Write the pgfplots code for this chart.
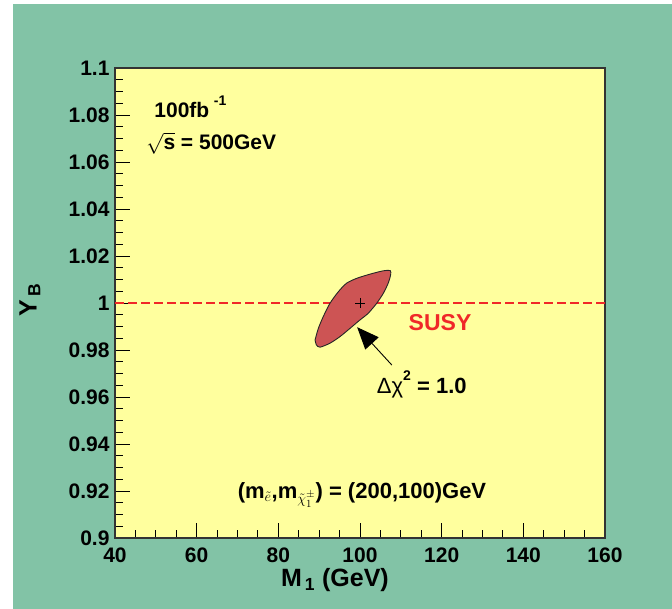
\documentclass[border=0pt]{standalone}
\usepackage{pgfplots}
\pgfplotsset{compat=1.18}
\usetikzlibrary{arrows.meta}
\usepackage{fontspec}
\setmainfont{Liberation Sans}
\definecolor{bggreen}{RGB}{130,195,166}
\definecolor{plotyellow}{RGB}{255,255,158}
\definecolor{ellred}{RGB}{205,84,84}
\definecolor{susyred}{RGB}{240,40,40}
\begin{document}
\begin{tikzpicture}
\fill[white] (0,0) rectangle (672bp,609bp);
\fill[bggreen] (13bp,0) rectangle (672bp,605bp);
\useasboundingbox (0,0) rectangle (672bp,609bp);
\begin{axis}[
  at={(115bp,71bp)}, anchor=south west,
  scale only axis, width=490bp, height=470bp,
  xmin=40, xmax=160, ymin=0.9, ymax=1.1,
  xtick={40,60,80,100,120,140,160},
  ytick={0.9,0.92,0.94,0.96,0.98,1,1.02,1.04,1.06,1.08,1.1},
  minor x tick num=3, minor y tick num=3,
  tick align=inside, xtick pos=bottom, ytick pos=left,
  major tick length=15bp, minor tick length=8bp,
  every tick/.style={black, line width=0.9bp},
  axis line style={line width=1.6bp, black!80},
  axis background/.style={fill=plotyellow},
  /pgf/number format/assume math mode=true,
  /pgf/number format/fixed, /pgf/number format/precision=2,
  ticklabel style={font=\fontsize{21bp}{24bp}\selectfont\bfseries},
  xticklabel style={yshift=-6bp},
  yticklabel style={xshift=-2bp},
  xlabel={M\textsubscript{\,1} (GeV)},
  ylabel={Y\textsubscript{\,B}},
  label style={font=\fontsize{25bp}{28bp}\selectfont\bfseries},
  xlabel style={at={(axis description cs:0.449,-0.0894)}, anchor=center},
  ylabel style={at={(axis description cs:-0.1735,0.506)}, anchor=center, rotate=0},
  clip=false,
]
\addplot[dashed, dash pattern=on 9bp off 4bp, color=susyred, line width=1.2bp, forget plot] coordinates {(40,1.0) (160,1.0)};
\addplot[fill=ellred, draw=black!85, line width=0.9bp, smooth, tension=0.45] coordinates {
(89.0,0.9843) (89.8,0.9892) (91.0,0.9942) (92.65,0.9999) (94.7,1.0048) (96.7,1.0084)
(99.2,1.0105) (102.5,1.0123) (105.7,1.0137) (107.4,1.0138)
(107.5,1.012) (106.9,1.0084) (105.7,1.0041) (104.1,0.9999) (102.0,0.9956)
(100,0.9928) (97.55,0.9892) (95.1,0.9857) (92.65,0.9829) (90.2,0.9812) (89.3,0.9822) (89.0,0.9843)} -- cycle;
\addplot[only marks, mark=+, mark size=5bp, mark options={line width=0.8bp, black}] coordinates {(100,1.0)};
\addplot[-{Triangle[length=22bp,width=18bp]}, black, line width=0.9bp] coordinates {(107.8,0.9736) (99.3,0.9897)};
\node[anchor=west, font=\fontsize{21bp}{24bp}\selectfont\bfseries] at (axis cs:48.8,1.0835) {100fb\raisebox{1.1ex}{\fontsize{14bp}{16bp}\selectfont\,\,-1}};
\node[anchor=west, font=\fontsize{21bp}{24bp}\selectfont\bfseries] at (axis cs:46.8,1.068) {$\sqrt{\mbox{\bfseries s}}$ = 500GeV};
\node[font=\fontsize{23bp}{26bp}\selectfont\bfseries, text=susyred] at (axis cs:119.6,0.9915) {SUSY};
\node[anchor=west, font=\fontsize{22bp}{25bp}\selectfont\bfseries] at (axis cs:103.3,0.9655) {{\mdseries Δχ}\raisebox{1.1ex}{\fontsize{14bp}{16bp}\selectfont 2} = 1.0};
\node[anchor=west, font=\fontsize{22bp}{25bp}\selectfont\bfseries] at (axis cs:69.2,0.9183) {(m$_{\tilde e}$,m$_{\tilde\chi_1^\pm}$) = (200,100)GeV};
\end{axis}
\end{tikzpicture}
\end{document}
